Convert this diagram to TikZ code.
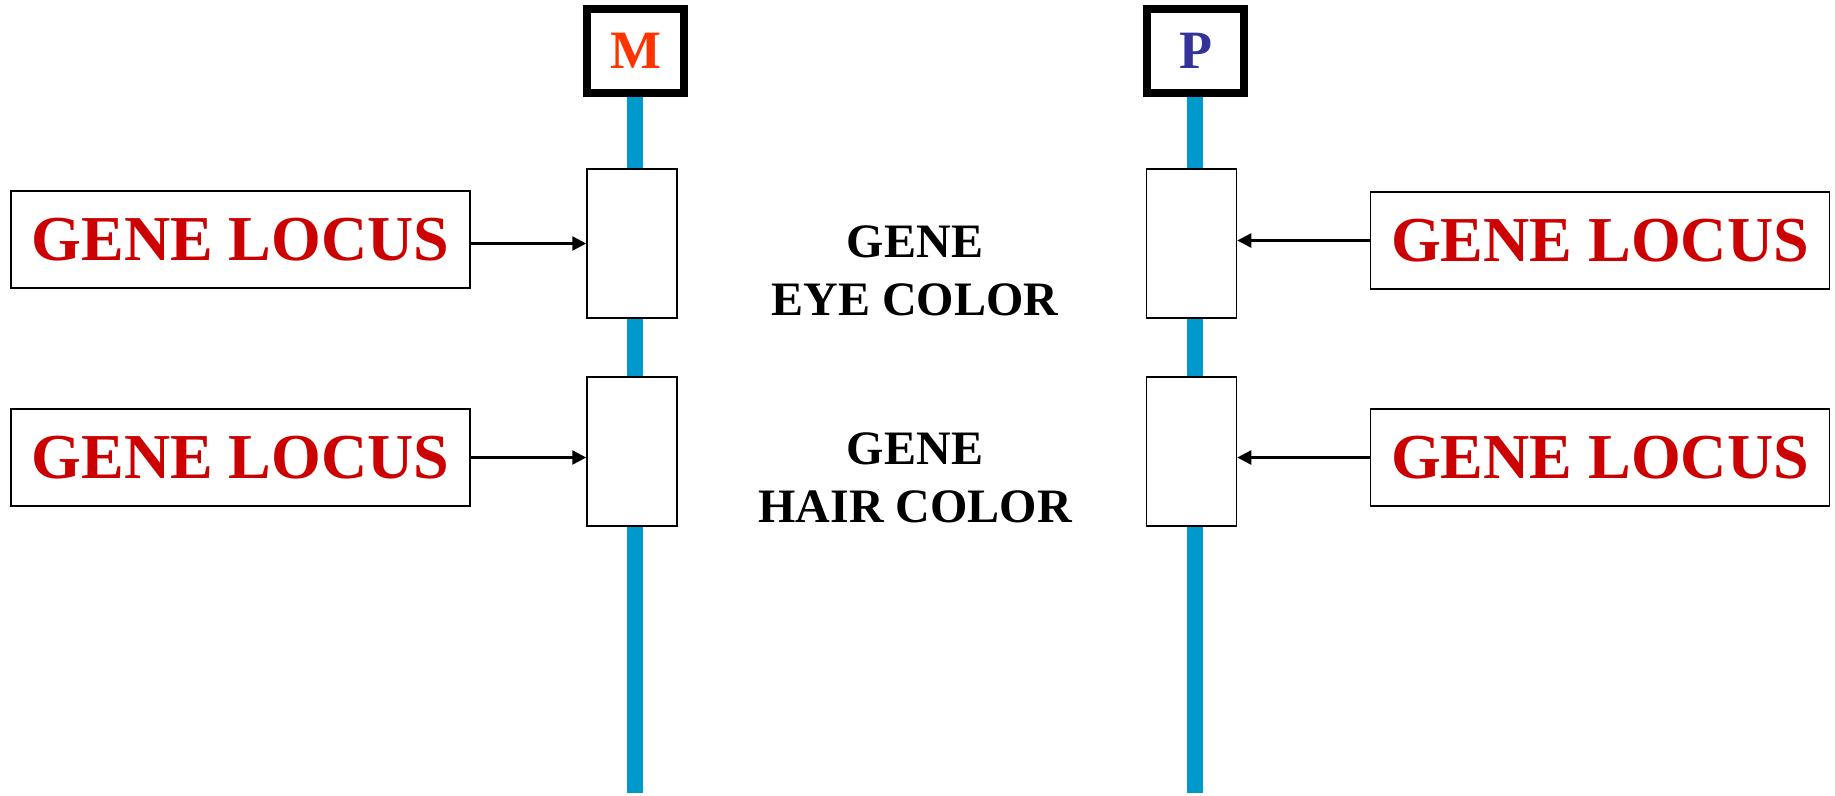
\documentclass[tikz,border=0pt]{standalone}
\usepackage{fontspec}
\setmainfont{Liberation Serif}
\usetikzlibrary{arrows.meta}
\definecolor{locusred}{HTML}{CC0000}
\definecolor{mred}{HTML}{FF3300}
\definecolor{pblue}{HTML}{333399}
\definecolor{chromblue}{HTML}{0099CC}
\tikzset{
  chrom/.style={draw=chromblue, line width=16pt},
  parentbox/.style={draw=black, line width=8pt, fill=white, minimum width=97pt, minimum height=84pt, inner sep=0pt, font=\fontsize{54}{60}\selectfont\bfseries},
  genebox/.style={draw=black, line width=1.5pt, fill=white, minimum width=90pt, minimum height=149pt, inner sep=0pt},
  locusbox/.style={draw=black, line width=1.5pt, fill=white, minimum width=459pt, minimum height=97pt, inner sep=0pt, text=locusred, font=\fontsize{64}{70}\selectfont\bfseries},
  genelabel/.style={align=center, inner sep=0pt, font=\fontsize{48}{58}\selectfont\bfseries},
  arr/.style={draw=black, line width=2.5pt, -{Triangle[length=14pt,width=14pt]}}
}
\begin{document}
\begin{tikzpicture}[x=1pt,y=-1pt]
\useasboundingbox[fill=white] (0,0) rectangle (1835,795);
% chromosomes
\coordinate (Mtop) at (635,90);
\coordinate (Mend) at (635,793);
\coordinate (Ptop) at (1195,90);
\coordinate (Pend) at (1195,793);
\draw[chrom] (Mtop) -- (Mend);
\draw[chrom] (Ptop) -- (Pend);
% parent labels
\node[parentbox, text=mred] (M) at (635.5,51) {M};
\node[parentbox, text=pblue] (P) at (1195.5,51) {P};
% gene boxes
\node[genebox] (gM1) at (632,243.5) {};
\node[genebox] (gM2) at (632,451.5) {};
\node[genebox] (gP1) at (1191.5,243.5) {};
\node[genebox] (gP2) at (1191.5,451.5) {};
% locus boxes
\node[locusbox] (lL1) at (240.5,239.5) {GENE LOCUS};
\node[locusbox] (lL2) at (240.5,457.5) {GENE LOCUS};
\node[locusbox] (lR1) at (1600,240.5) {GENE LOCUS};
\node[locusbox] (lR2) at (1600,457.5) {GENE LOCUS};
% middle labels
\node[genelabel] (eye) at (915,271) {GENE\\EYE COLOR};
\node[genelabel] (hair) at (915,478) {GENE\\HAIR COLOR};
% arrows
\draw[arr] (gM1.west -| lL1.east) -- (gM1.west);
\draw[arr] (lL2.east) -- (lL2.east -| gM2.west);
\draw[arr] (lR1.west) -- (lR1.west -| gP1.east);
\draw[arr] (lR2.west) -- (lR2.west -| gP2.east);
\end{tikzpicture}
\end{document}
